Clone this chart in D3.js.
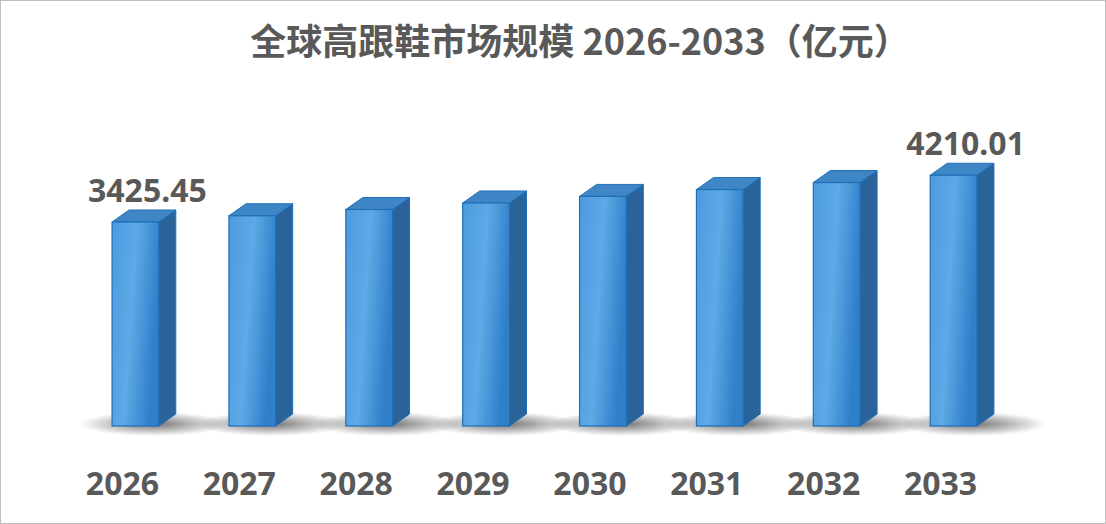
<!DOCTYPE html><html><head><meta charset="utf-8">
<script src="https://cdn.jsdelivr.net/npm/d3@7"></script>
<style>body{margin:0;background:#fff}svg{display:block}</style></head><body>
<svg id="c" width="1106" height="524"></svg>
<script>
const years=["2026","2027","2028","2029","2030","2031","2032","2033"];
const values=[3425.45,3530,3635,3745,3855,3970,4088,4210.01];
const shownLabels=[0,7];
const title="全球高跟鞋市场规模 2026-2033（亿元）";

const svg=d3.select("#c");
const W=1106,H=524,base=426;
const defs=svg.append("defs");
const g1=defs.append("linearGradient").attr("id","front").attr("x1","0").attr("x2","1").attr("y1","0").attr("y2","0.3");
g1.append("stop").attr("offset","0").attr("stop-color","#4c9be0");
g1.append("stop").attr("offset","0.5").attr("stop-color","#5ea9e6");
g1.append("stop").attr("offset","1").attr("stop-color","#2f7fc9");
const sh=defs.append("radialGradient").attr("id","shadow");
sh.append("stop").attr("offset","0").attr("stop-color","#000").attr("stop-opacity",0.55);
sh.append("stop").attr("offset","1").attr("stop-color","#000").attr("stop-opacity",0);

svg.append("rect").attr("x",0.5).attr("y",0.5).attr("width",W-1).attr("height",H-1).attr("fill","#fff").attr("stroke","#bfbfbf");
svg.append("text").attr("x",580).attr("y",55).attr("text-anchor","middle")
 .attr("font-family","Noto Sans CJK SC").attr("font-weight","bold").attr("font-size",36).attr("fill","#595959").text(title);

const x=d3.scaleBand().domain(years).range([77,1012]).paddingInner(0.6).paddingOuter(0.3);
const y=d3.scaleLinear().domain([0,3425.45]).range([base,222]);
const dx=17,dy=12,bw=x.bandwidth();

years.forEach((yr,i)=>{
  const x0=x(yr);
  svg.append("ellipse").attr("cx",x0+bw/2+dx/2+10).attr("cy",base-2).attr("rx",bw*1.6).attr("ry",12).attr("fill","url(#shadow)");
});
years.forEach((yr,i)=>{
  const x0=x(yr),yt=y(values[i]);
  svg.append("path").attr("d",`M${x0+bw},${yt}L${x0+bw+dx},${yt-dy}L${x0+bw+dx},${base-dy}L${x0+bw},${base}Z`).attr("fill","#2a6399").attr("stroke","#1f6fb8").attr("stroke-width",1);
  svg.append("path").attr("d",`M${x0},${yt}L${x0+dx},${yt-dy}L${x0+bw+dx},${yt-dy}L${x0+bw},${yt}Z`).attr("fill","#3f86c6").attr("stroke","#1f6fb8").attr("stroke-width",1);
  svg.append("rect").attr("x",x0).attr("y",yt).attr("width",bw).attr("height",base-yt).attr("fill","url(#front)").attr("stroke","#1f6fb8").attr("stroke-width",1.2);
  svg.append("text").attr("x",x0+bw/2-13).attr("y",495).attr("text-anchor","middle")
   .attr("font-family","Noto Sans").attr("font-weight","bold").attr("font-size",32).attr("fill","#595959").text(yr);
  if(shownLabels.includes(i)){
    svg.append("text").attr("x",x0+bw/2+12).attr("y",yt-20).attr("text-anchor","middle")
     .attr("font-family","Noto Sans").attr("font-weight","bold").attr("font-size",32).attr("fill","#595959").text(values[i].toFixed(2));
  }
});
</script></body></html>
